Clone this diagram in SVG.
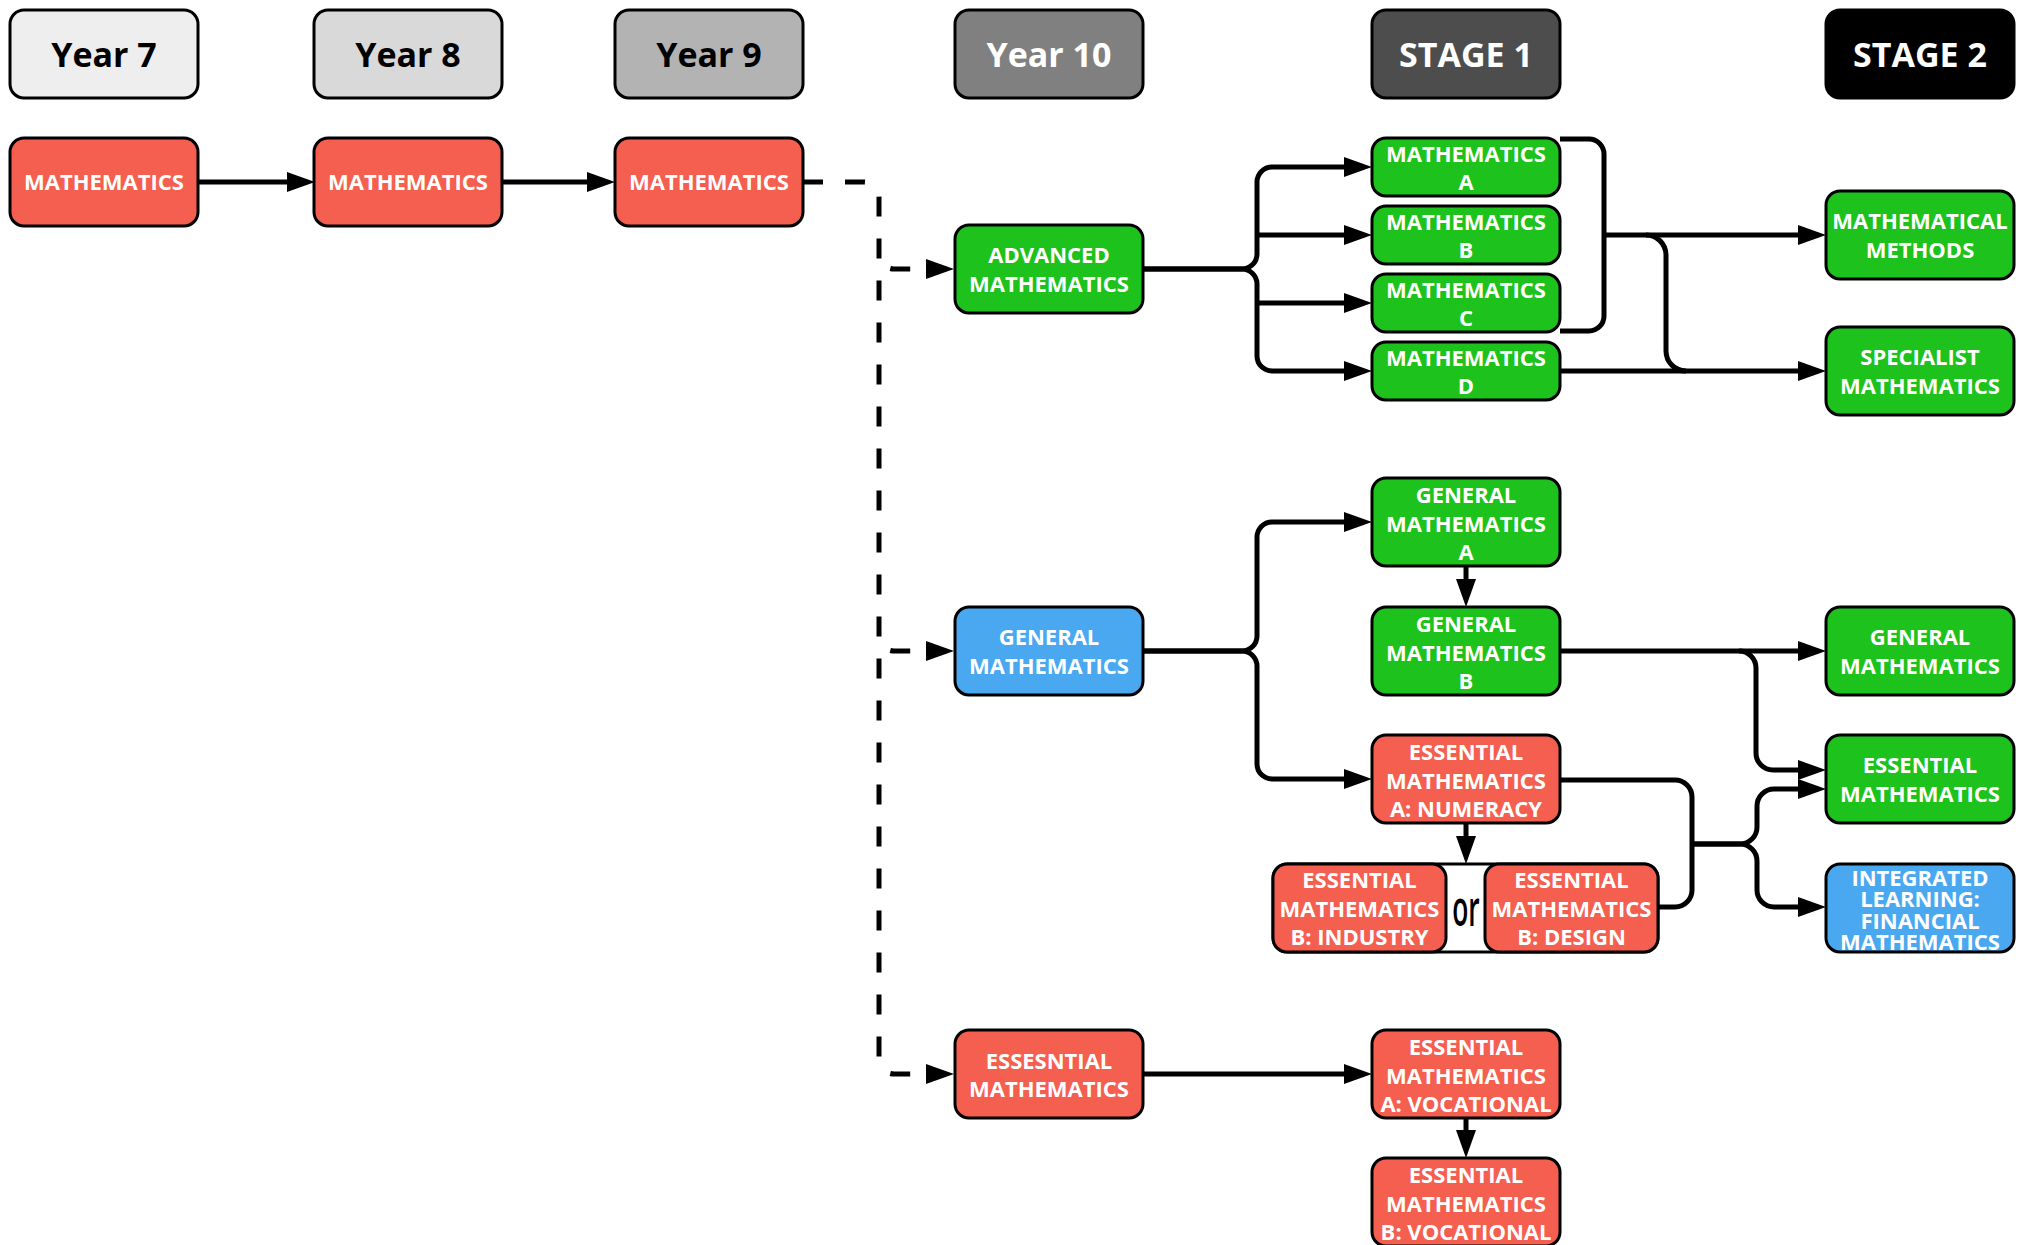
<svg xmlns="http://www.w3.org/2000/svg" width="2027" height="1245" viewBox="0 0 2027 1245">
  <style>
    .box { stroke: #000; stroke-width: 3; }
    .red { fill: #F55F50; }
    .green { fill: #1DC21D; }
    .blue { fill: #4AA8F0; }
    .t { font-family: "Open Sans", "Liberation Sans", sans-serif; font-weight: 700; font-size: 22px; fill: #fff; text-anchor: middle; }
    .h { font-size: 34px; }
    .dark { fill: #000; }
    .conn { fill: none; stroke: #000; stroke-width: 5; }
    .dash { stroke-dasharray: 20 22; }
    .branch { stroke-dashoffset: 22.4; }
  </style>
  <defs>
    <marker id="ah" markerUnits="userSpaceOnUse" markerWidth="28" markerHeight="20" refX="0" refY="10" orient="auto" overflow="visible">
      <path d="M0,0 L28,10 L0,20 Z" fill="#000"/>
    </marker>
  </defs>

  <rect width="2027" height="1245" fill="#fff"/>

  <!-- connectors -->
  <g id="connectors">
    <!-- year to year -->
    <path class="conn" d="M198,182 H287" marker-end="url(#ah)"/>
    <path class="conn" d="M502,182 H587" marker-end="url(#ah)"/>

    <!-- dashed split after Year 9 -->
    <path class="conn dash" d="M803,182 H864 A15,15 0 0 1 879,197 V1059"/>
    <path class="conn dash branch" d="M879,254 A15,15 0 0 0 894,269 H926" marker-end="url(#ah)"/>
    <path class="conn dash branch" d="M879,636 A15,15 0 0 0 894,651 H926" marker-end="url(#ah)"/>
    <path class="conn dash branch" d="M879,1059 A15,15 0 0 0 894,1074 H926" marker-end="url(#ah)"/>

    <!-- advanced mathematics fan-out -->
    <path class="conn" d="M1143,269 H1242 A15,15 0 0 0 1257,254 V182 A15,15 0 0 1 1272,167 H1344" marker-end="url(#ah)"/>
    <path class="conn" d="M1257,235 H1344" marker-end="url(#ah)"/>
    <path class="conn" d="M1257,303 H1344" marker-end="url(#ah)"/>
    <path class="conn" d="M1143,269 H1242 A15,15 0 0 1 1257,284 V356 A15,15 0 0 0 1272,371 H1344" marker-end="url(#ah)"/>

    <!-- mathematics A-C bracket to stage 2 -->
    <path class="conn" d="M1560,139 H1589 A15,15 0 0 1 1604,154 V316 A15,15 0 0 1 1589,331 H1560"/>
    <path class="conn" d="M1604,235 H1798" marker-end="url(#ah)"/>
    <path class="conn" d="M1646,235 A20,20 0 0 1 1666,255 V351 A20,20 0 0 0 1686,371"/>
    <path class="conn" d="M1560,371 H1798" marker-end="url(#ah)"/>

    <!-- general mathematics fan-out -->
    <path class="conn" d="M1143,651 H1242 A15,15 0 0 0 1257,636 V537 A15,15 0 0 1 1272,522 H1344" marker-end="url(#ah)"/>
    <path class="conn" d="M1143,651 H1242 A15,15 0 0 1 1257,666 V764 A15,15 0 0 0 1272,779 H1344" marker-end="url(#ah)"/>
    <path class="conn" d="M1466,566 V579" marker-end="url(#ah)"/>

    <!-- general mathematics B to stage 2 -->
    <path class="conn" d="M1560,651 H1798" marker-end="url(#ah)"/>
    <path class="conn" d="M1739,651 A17,17 0 0 1 1756,668 V753 A17,17 0 0 0 1773,770 H1798" marker-end="url(#ah)"/>

    <!-- essential mathematics A/B bracket to stage 2 -->
    <path class="conn" d="M1466,823 V836" marker-end="url(#ah)"/>
    <path class="conn" d="M1560,780 H1675 A17,17 0 0 1 1692,797 V890 A17,17 0 0 1 1675,907 H1658"/>
    <path class="conn" d="M1692,844 H1740 A17,17 0 0 0 1757,827 V806 A17,17 0 0 1 1774,789 H1798" marker-end="url(#ah)"/>
    <path class="conn" d="M1692,844 H1740 A17,17 0 0 1 1757,861 V890 A17,17 0 0 0 1774,907 H1798" marker-end="url(#ah)"/>

    <!-- essential mathematics vocational path -->
    <path class="conn" d="M1143,1074 H1344" marker-end="url(#ah)"/>
    <path class="conn" d="M1466,1118 V1130" marker-end="url(#ah)"/>
  </g>

  <!-- column headers -->
  <g id="hdr-y7">
    <rect class="box" x="10" y="10" width="188" height="88" rx="14" fill="#EEEEEE"/>
    <text class="t h dark" x="104" y="67">Year 7</text>
  </g>
  <g id="hdr-y8">
    <rect class="box" x="314" y="10" width="188" height="88" rx="14" fill="#D9D9D9"/>
    <text class="t h dark" x="408" y="67">Year 8</text>
  </g>
  <g id="hdr-y9">
    <rect class="box" x="615" y="10" width="188" height="88" rx="14" fill="#B3B3B3"/>
    <text class="t h dark" x="709" y="67">Year 9</text>
  </g>
  <g id="hdr-y10">
    <rect class="box" x="955" y="10" width="188" height="88" rx="14" fill="#808080"/>
    <text class="t h" x="1049" y="67">Year 10</text>
  </g>
  <g id="hdr-s1">
    <rect class="box" x="1372" y="10" width="188" height="88" rx="14" fill="#4D4D4D"/>
    <text class="t h" x="1466" y="67">STAGE 1</text>
  </g>
  <g id="hdr-s2">
    <rect class="box" x="1826" y="10" width="188" height="88" rx="14" fill="#000"/>
    <text class="t h" x="1920" y="67">STAGE 2</text>
  </g>

  <!-- years 7 to 9 -->
  <g id="math-y7">
    <rect class="box red" x="10" y="138" width="188" height="88" rx="14"/>
    <text class="t" x="104" y="190">MATHEMATICS</text>
  </g>
  <g id="math-y8">
    <rect class="box red" x="314" y="138" width="188" height="88" rx="14"/>
    <text class="t" x="408" y="190">MATHEMATICS</text>
  </g>
  <g id="math-y9">
    <rect class="box red" x="615" y="138" width="188" height="88" rx="14"/>
    <text class="t" x="709" y="190">MATHEMATICS</text>
  </g>

  <!-- year 10 -->
  <g id="adv-math">
    <rect class="box green" x="955" y="225" width="188" height="88" rx="14"/>
    <text class="t" x="1049" y="263">ADVANCED</text>
    <text class="t" x="1049" y="292">MATHEMATICS</text>
  </g>
  <g id="gen-math-y10">
    <rect class="box blue" x="955" y="607" width="188" height="88" rx="14"/>
    <text class="t" x="1049" y="645">GENERAL</text>
    <text class="t" x="1049" y="674">MATHEMATICS</text>
  </g>
  <g id="ess-math-y10">
    <rect class="box red" x="955" y="1030" width="188" height="88" rx="14"/>
    <text class="t" x="1049" y="1069">ESSESNTIAL</text>
    <text class="t" x="1049" y="1097">MATHEMATICS</text>
  </g>

  <!-- stage 1 -->
  <g id="math-a">
    <rect class="box green" x="1372" y="138" width="188" height="58" rx="14"/>
    <text class="t" x="1466" y="162">MATHEMATICS</text>
    <text class="t" x="1466" y="190">A</text>
  </g>
  <g id="math-b">
    <rect class="box green" x="1372" y="206" width="188" height="58" rx="14"/>
    <text class="t" x="1466" y="230">MATHEMATICS</text>
    <text class="t" x="1466" y="258">B</text>
  </g>
  <g id="math-c">
    <rect class="box green" x="1372" y="274" width="188" height="58" rx="14"/>
    <text class="t" x="1466" y="298">MATHEMATICS</text>
    <text class="t" x="1466" y="326">C</text>
  </g>
  <g id="math-d">
    <rect class="box green" x="1372" y="342" width="188" height="58" rx="14"/>
    <text class="t" x="1466" y="366">MATHEMATICS</text>
    <text class="t" x="1466" y="394">D</text>
  </g>
  <g id="gen-math-a">
    <rect class="box green" x="1372" y="478" width="188" height="88" rx="14"/>
    <text class="t" x="1466" y="503">GENERAL</text>
    <text class="t" x="1466" y="531.5">MATHEMATICS</text>
    <text class="t" x="1466" y="560">A</text>
  </g>
  <g id="gen-math-b">
    <rect class="box green" x="1372" y="607" width="188" height="88" rx="14"/>
    <text class="t" x="1466" y="632">GENERAL</text>
    <text class="t" x="1466" y="660.5">MATHEMATICS</text>
    <text class="t" x="1466" y="689">B</text>
  </g>
  <g id="ess-math-a-num">
    <rect class="box red" x="1372" y="735" width="188" height="88" rx="14"/>
    <text class="t" x="1466" y="760">ESSENTIAL</text>
    <text class="t" x="1466" y="788.5">MATHEMATICS</text>
    <text class="t" x="1466" y="817">A: NUMERACY</text>
  </g>
  <g id="ess-math-b-choice">
    <rect class="box" x="1273" y="864" width="385" height="88" rx="14" fill="#fff"/>
    <rect class="box red" x="1273" y="864" width="173" height="88" rx="14"/>
    <rect class="box red" x="1485" y="864" width="173" height="88" rx="14"/>
    <text class="t" x="1359.5" y="888">ESSENTIAL</text>
    <text class="t" x="1359.5" y="917">MATHEMATICS</text>
    <text class="t" x="1359.5" y="945">B: INDUSTRY</text>
    <text class="t dark" transform="translate(1466,926) scale(0.55,1)" style="font-size:48px;font-weight:600" x="0" y="0">or</text>
    <text class="t" x="1571.5" y="888">ESSENTIAL</text>
    <text class="t" x="1571.5" y="917">MATHEMATICS</text>
    <text class="t" x="1571.5" y="945">B: DESIGN</text>
  </g>
  <g id="ess-math-a-voc">
    <rect class="box red" x="1372" y="1030" width="188" height="88" rx="14"/>
    <text class="t" x="1466" y="1055">ESSENTIAL</text>
    <text class="t" x="1466" y="1083.5">MATHEMATICS</text>
    <text class="t" x="1466" y="1112">A: VOCATIONAL</text>
  </g>
  <g id="ess-math-b-voc">
    <rect class="box red" x="1372" y="1158" width="188" height="88" rx="14"/>
    <text class="t" x="1466" y="1183">ESSENTIAL</text>
    <text class="t" x="1466" y="1211.5">MATHEMATICS</text>
    <text class="t" x="1466" y="1240">B: VOCATIONAL</text>
  </g>

  <!-- stage 2 -->
  <g id="math-methods">
    <rect class="box green" x="1826" y="191" width="188" height="88" rx="14"/>
    <text class="t" x="1920" y="229">MATHEMATICAL</text>
    <text class="t" x="1920" y="258">METHODS</text>
  </g>
  <g id="spec-math">
    <rect class="box green" x="1826" y="327" width="188" height="88" rx="14"/>
    <text class="t" x="1920" y="365">SPECIALIST</text>
    <text class="t" x="1920" y="394">MATHEMATICS</text>
  </g>
  <g id="gen-math-s2">
    <rect class="box green" x="1826" y="607" width="188" height="88" rx="14"/>
    <text class="t" x="1920" y="645">GENERAL</text>
    <text class="t" x="1920" y="674">MATHEMATICS</text>
  </g>
  <g id="ess-math-s2">
    <rect class="box green" x="1826" y="735" width="188" height="88" rx="14"/>
    <text class="t" x="1920" y="773">ESSENTIAL</text>
    <text class="t" x="1920" y="802">MATHEMATICS</text>
  </g>
  <g id="int-fin-math">
    <rect class="box blue" x="1826" y="864" width="188" height="88" rx="14"/>
    <text class="t" x="1920" y="886">INTEGRATED</text>
    <text class="t" x="1920" y="907">LEARNING:</text>
    <text class="t" x="1920" y="928.5">FINANCIAL</text>
    <text class="t" x="1920" y="950">MATHEMATICS</text>
  </g>
</svg>
